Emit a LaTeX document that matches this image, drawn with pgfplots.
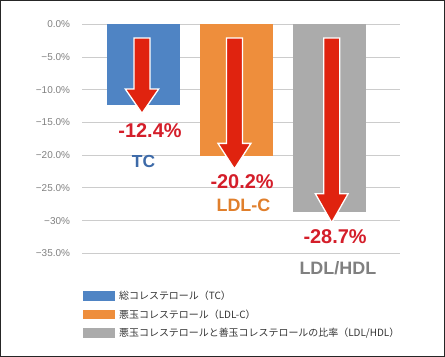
\documentclass[border=0pt]{standalone}
\usepackage{pgfplots}
\pgfplotsset{compat=1.18}
\usepackage{fontspec}
\setmainfont{Liberation Sans}
\newfontfamily\jp{Noto Sans CJK JP}
\definecolor{cblue}{HTML}{4F84C4}
\definecolor{corange}{HTML}{EE8E3C}
\definecolor{cgray}{HTML}{ABABAB}
\definecolor{cred}{HTML}{E0230F}
\definecolor{lred}{HTML}{D41E2A}
\definecolor{lblue}{HTML}{3D6AA8}
\definecolor{lorange}{HTML}{E07F2C}
\definecolor{lgray}{HTML}{808080}
\begin{document}
\begin{tikzpicture}
\begin{axis}[
  at={(82bp,103.7bp)}, anchor=south west,
  scale only axis, width=318bp, height=229bp,
  xmin=-0.661, xmax=2.758, ymin=-35, ymax=0,
  axis line style={draw=none},
  major tick length=0pt,
  xtick=\empty,
  ytick={-35,-30,-25,-20,-15,-10,-5,0},
  yticklabels={−35.0\%,−30\%,−25.0\%,−20.0\%,−15.0\%,−10.0\%,−5.0\%,0.0\%},
  yticklabel style={font=\fontsize{10}{12}\selectfont, text=black!50, xshift=-8.5bp},
  ymajorgrids,
  grid style={draw=black!20, line width=0.8bp},
  clip=false,
  no markers,
  legend style={at={(0.003,-0.158)}, anchor=north west, draw=none, fill=none,
    font=\jp\fontsize{10}{12}\selectfont, text=black!80,
    row sep=5.3bp, inner sep=0pt, nodes={inner sep=1.5bp},
    /tikz/every odd column/.append style={column sep=2.5bp}},
  legend cell align=left,
]
\addplot[ybar, bar width=0.785, bar shift=0pt, fill=cblue, draw=none,
  legend image code/.code={\fill[cblue] (0bp,-4.7bp) rectangle (32bp,4.7bp);}]
  coordinates {(0,-12.4)};
\addlegendentry{総コレステロール（TC）}
\addplot[ybar, bar width=0.785, bar shift=0pt, fill=corange, draw=none,
  legend image code/.code={\fill[corange] (0bp,-4.7bp) rectangle (32bp,4.7bp);}]
  coordinates {(1,-20.2)};
\addlegendentry{悪玉コレステロール（LDL-C）}
\addplot[ybar, bar width=0.785, bar shift=0pt, fill=cgray, draw=none,
  legend image code/.code={\fill[cgray] (0bp,-4.7bp) rectangle (32bp,4.7bp);}]
  coordinates {(2,-28.7)};
\addlegendentry{悪玉コレステロールと善玉コレステロールの比率（LDL/HDL）}
% arrows
\addplot[fill=cred, draw=white, line width=1.3bp, forget plot]
  coordinates {(-0.102,-2.1) (0.070,-2.1) (0.070,-9.9) (0.163,-9.9) (-0.016,-13.6) (-0.195,-9.9) (-0.102,-9.9)} -- cycle;
\addplot[fill=cred, draw=white, line width=1.3bp, forget plot]
  coordinates {(0.892,-2.1) (1.064,-2.1) (1.064,-18.2) (1.155,-18.2) (0.978,-22.1) (0.801,-18.2) (0.892,-18.2)} -- cycle;
\addplot[fill=cred, draw=white, line width=1.3bp, forget plot]
  coordinates {(1.938,-2.1) (2.110,-2.1) (2.110,-25.9) (2.200,-25.9) (2.024,-30.3) (1.848,-25.9) (1.938,-25.9)} -- cycle;
% labels
\node[text=lred, font=\bfseries\fontsize{20}{22}\selectfont] at (axis cs:0.07,-16.2) {-12.4\%};
\node[text=lblue, font=\bfseries\fontsize{17.5}{19}\selectfont] at (axis cs:0.0,-21.0) {TC};
\node[text=lred, font=\bfseries\fontsize{20}{22}\selectfont] at (axis cs:1.06,-24.1) {-20.2\%};
\node[text=lorange, font=\bfseries\fontsize{18}{19}\selectfont] at (axis cs:1.075,-27.7) {LDL-C};
\node[text=lred, font=\bfseries\fontsize{20}{22}\selectfont] at (axis cs:2.06,-32.5) {-28.7\%};
\node[text=lgray, font=\bfseries\fontsize{18}{19}\selectfont] at (axis cs:2.09,-37.2) {LDL/HDL};
\end{axis}
\draw[black!85, line width=1bp] (0.5bp,0.5bp) rectangle (444.5bp,356.5bp);
\pgfresetboundingbox
\path[use as bounding box] (0,0) rectangle (445bp,357bp);
\end{tikzpicture}
\end{document}
